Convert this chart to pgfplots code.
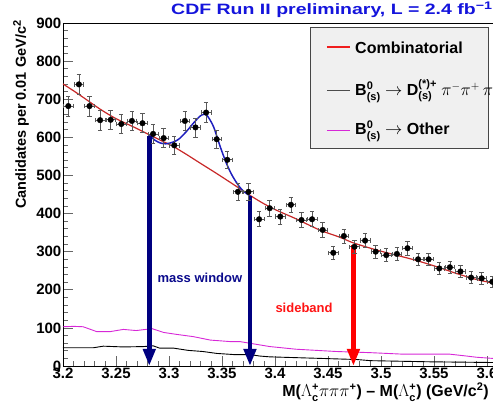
\documentclass[border=0pt]{standalone}
\usepackage{fontspec}
\setmainfont{Liberation Sans}
\usepackage{graphicx}
\usepackage{pgfplots}
\pgfplotsset{compat=1.18}
\usepackage{pgfplotstable}
\usetikzlibrary{arrows.meta}

\definecolor{combred}{RGB}{200,40,40}
\definecolor{keyred}{RGB}{240,30,30}
\definecolor{fitblue}{RGB}{30,30,190}
\definecolor{arrownavy}{RGB}{0,0,128}
\definecolor{arrowred}{RGB}{255,0,0}
\definecolor{othermag}{RGB}{215,40,215}
\definecolor{titleblue}{RGB}{20,20,220}
\definecolor{navytext}{RGB}{10,10,140}
\definecolor{sidered}{RGB}{255,20,20}
\definecolor{legendframe}{RGB}{70,70,70}
\definecolor{legendfill}{RGB}{240,240,240}

% stacked super/subscript in the text font
\newcommand\supsub[2]{$^{\hbox{\fontsize{11}{11}\selectfont\bfseries #1}}_{\hbox{\fontsize{11}{11}\selectfont\bfseries #2}}$}
\newcommand\tsup[1]{$^{\hbox{\fontsize{11}{11}\selectfont\bfseries #1}}$}

% data: bin centre, candidates, half bin width, statistical error
\pgfplotstableread{
x      y    ex      ey
3.205  682  0.0045  26.1
3.215  739  0.0045  27.2
3.225  682  0.0045  26.1
3.235  645  0.0045  25.4
3.245  646  0.0045  25.4
3.255  635  0.0045  25.2
3.265  643  0.0045  25.4
3.275  637  0.0045  25.2
3.285  609  0.0045  24.7
3.295  598  0.0045  24.5
3.305  579  0.0045  24.1
3.315  643  0.0045  25.4
3.325  626  0.0045  25.0
3.335  665  0.0045  25.8
3.345  595  0.0045  24.4
3.355  541  0.0045  23.3
3.365  457  0.0045  21.4
3.375  457  0.0045  21.4
3.385  385  0.0045  19.6
3.395  414  0.0045  20.3
3.405  392  0.0045  19.8
3.415  423  0.0045  20.6
3.425  383  0.0045  19.6
3.435  385  0.0045  19.6
3.445  357  0.0045  18.9
3.455  297  0.0045  17.2
3.465  341  0.0045  18.5
3.475  313  0.0045  17.7
3.485  329  0.0045  18.1
3.495  300  0.0045  17.3
3.505  291  0.0045  17.1
3.515  294  0.0045  17.1
3.525  309  0.0045  17.6
3.535  280  0.0045  16.7
3.545  280  0.0045  16.7
3.555  256  0.0045  16.0
3.565  259  0.0045  16.1
3.575  248  0.0045  15.7
3.585  232  0.0045  15.2
3.595  230  0.0045  15.2
3.605  221  0.0045  14.9
}\datatable

% combinatorial background
\pgfplotstableread{
x      y
3.200  740
3.210  722
3.220  703
3.235  674
3.250  649
3.266  628
3.282  606
3.293  591
3.304  576
3.316  556
3.329  533
3.345  505
3.361  476
3.378  445
3.390  425
3.402  408
3.420  386
3.442  357
3.461  338
3.474  323
3.495  305
3.510  294
3.532  278
3.552  261
3.571  243
3.590  227
3.610  215
}\combtable

% total fit in the mass window
\pgfplotstableread{
x       y
3.2814  605
3.287   592
3.292   585
3.297   583
3.301   585
3.306   590
3.310   597
3.316   614
3.323   637
3.329   655
3.3325  660
3.336   657
3.342   628
3.348   578
3.354   533
3.359   503
3.364   480
3.369   462
3.3764  446
}\fittable

% B -> D pi pi pi template
\pgfplotstableread{
x      y
3.200  48
3.229  48
3.238  52
3.257  50
3.276  51
3.285  53
3.291  47
3.304  47
3.318  41
3.332  38
3.345  33
3.361  30
3.376  30
3.386  26
3.395  24
3.442  20
3.477  17
3.490  14
3.546  11
3.610  9
}\dpipitable

% B -> other template
\pgfplotstableread{
x      y
3.200  103
3.210  104
3.219  103
3.226  96
3.232  90
3.244  90
3.257  96
3.269  93
3.284  98
3.295  88
3.307  83
3.323  77
3.339  68
3.358  64
3.367  64
3.380  58
3.395  51
3.420  44
3.458  38
3.490  35
3.521  31
3.545  31
3.565  31
3.578  27
3.590  23
3.610  19
}\othertable

\begin{document}
\begin{tikzpicture}
\path[use as bounding box] (-63pt,-37pt) rectangle (430pt,366pt);
\clip (-63pt,-37pt) rectangle (430pt,366pt);
\begin{axis}[
  at={(0pt,0pt)}, anchor=south west,
  scale only axis, width=433pt, height=343pt,
  xmin=3.2, xmax=3.6085, ymin=0, ymax=900,
  xtick={3.2,3.25,3.3,3.35,3.4,3.45,3.5,3.55,3.6},
  minor x tick num=4,
  ytick={0,100,200,300,400,500,600,700,800,900},
  minor y tick num=4,
  tick pos=left, tick align=inside,
  major tick length=10pt, minor tick length=5pt,
  tick style={black!60, line width=0.7pt},
  axis line style={line width=0.9pt},
  /pgf/number format/assume math mode=true,
  /pgf/number format/fixed,
  /pgf/number format/precision=2,
  tick label style={font=\bfseries\fontsize{15}{17}\selectfont},
  yticklabel style={inner xsep=1.5pt},
  xticklabel style={inner ysep=2pt},
  title={\scalebox{1.3}[1]{\textcolor{titleblue}{CDF Run II preliminary, L = 2.4 fb\tsup{−1}}}},
  title style={at={(axis description cs:1,1)}, anchor=base east,
    yshift=2pt, xshift=-3pt, inner sep=0pt,
    font=\bfseries\fontsize{15}{17}\selectfont},
  ylabel={Candidates per 0.01 GeV/c\tsup{2}},
  ylabel style={at={(axis description cs:-0.0855,1.0087)}, anchor=base east,
    inner sep=0pt, font=\bfseries\fontsize{14.5}{16}\selectfont},
  xlabel={M($\Lambda$\supsub{+}{c}$\pi\pi\pi$\tsup{+}) – M($\Lambda$\supsub{+}{c}) (GeV/c\tsup{2})},
  xlabel style={at={(axis description cs:1,0)}, anchor=base east,
    yshift=-31pt, xshift=-7pt, inner sep=0pt,
    font=\bfseries\fontsize{16}{18}\selectfont},
]
\addplot[combred, line width=1.2pt, smooth, tension=0.5] table {\combtable};
\addplot[black, line width=0.9pt] table {\dpipitable};
\addplot[othermag, line width=0.9pt] table {\othertable};
\addplot[fitblue, line width=1.5pt, smooth, tension=0.5] table {\fittable};

% mass window and sideband markers
\addplot[arrownavy, line width=4.5pt, -{Triangle[width=12pt,length=17pt]}]
  coordinates {(3.2814,604) (3.2814,0)};
\addplot[arrownavy, line width=4.5pt, -{Triangle[width=12pt,length=17pt]}]
  coordinates {(3.3764,446) (3.3764,0)};
\addplot[arrowred, line width=4.5pt, -{Triangle[width=12pt,length=17pt]}]
  coordinates {(3.474,318) (3.474,0)};

\addplot[black, only marks, mark=*, mark size=2.8pt,
  error bars/.cd, x dir=both, x explicit, y dir=both, y explicit,
  error bar style={line width=0.7pt, black!65},
  error mark options={rotate=90, mark size=2.2pt, line width=0.7pt, black!65}]
  table[x=x, y=y, x error=ex, y error=ey] {\datatable};

\node[text=navytext, font=\bfseries\fontsize{13}{15}\selectfont] at (axis cs:3.3292,231) {mass window};
\node[text=sidered, font=\bfseries\fontsize{13}{15}\selectfont] at (axis cs:3.4274,152) {sideband};

% legend box with its entries
\path[draw=legendframe, fill=legendfill, line width=0.6pt]
  (axis description cs:0.5704,0.9883) rectangle (axis description cs:0.9815,0.6356);
\begin{scope}[every node/.style={anchor=base west, inner sep=0pt,
    font=\bfseries\fontsize{16}{18}\selectfont}]
\node at (axis description cs:0.6744,0.9125) {Combinatorial};
\node at (axis description cs:0.6744,0.7872) {B\supsub{0}{(s)} $\rightarrow$ D\supsub{(*)+}{(s)} $\pi^{-}\pi^{+}\,\pi^{-}$};
\node at (axis description cs:0.6744,0.6735) {B\supsub{0}{(s)} $\rightarrow$ Other};
\end{scope}
\path[draw=black!70, line width=0.8pt]
  (axis description cs:0.6097,0.8047) -- (axis description cs:0.6628,0.8047);
\path[draw=othermag, line width=0.8pt]
  (axis description cs:0.6097,0.6880) -- (axis description cs:0.6628,0.6880);
\path[draw=keyred, line width=1.3pt]
  (axis description cs:0.6097,0.9300) -- (axis description cs:0.6628,0.9300);
\end{axis}
\end{tikzpicture}
\end{document}
